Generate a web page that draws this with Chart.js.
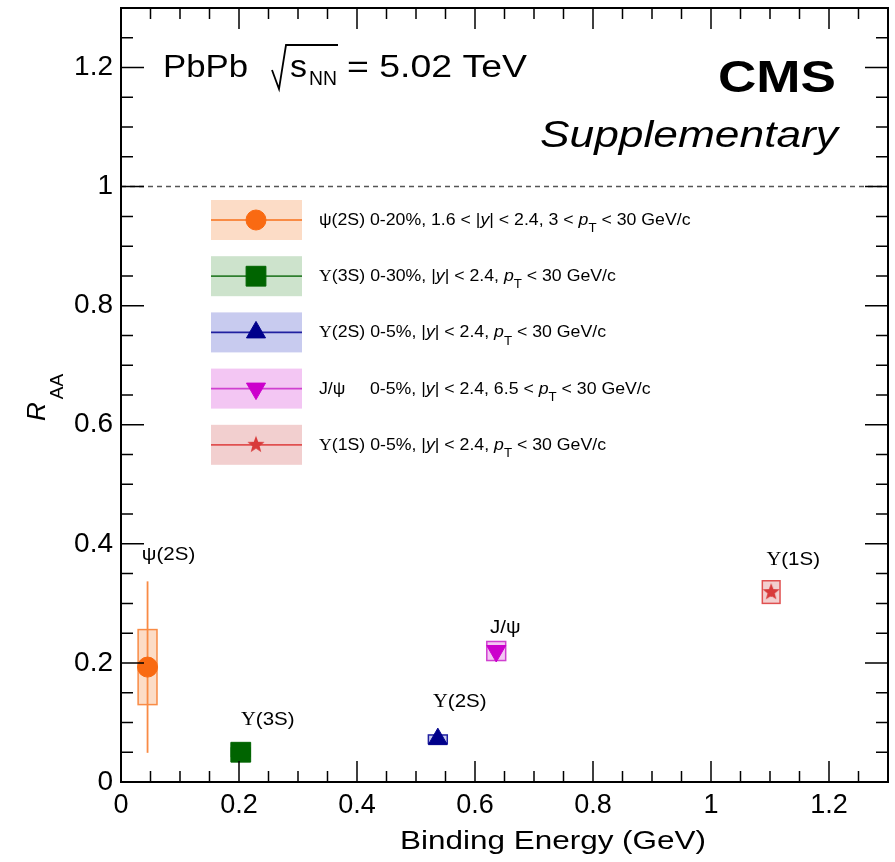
<!DOCTYPE html>
<html>
<head>
<meta charset="utf-8">
<script src="https://cdn.jsdelivr.net/npm/chart.js@4/dist/chart.umd.min.js"></script>
<style>
  html, body { margin: 0; padding: 0; background: #fff; }
  canvas { display: block; }
</style>
</head>
<body>
<canvas id="c" width="895" height="862"></canvas>
<script>
// Quarkonium suppression vs binding energy, PbPb at 5.02 TeV
const states        = ['ψ(2S)', 'Υ(3S)', 'Υ(2S)', 'J/ψ', 'Υ(1S)'];
const bindingEnergy = [0.045, 0.203, 0.537, 0.636, 1.102];   // GeV
const raa           = [0.193, 0.050, 0.072, 0.220, 0.319];
const statErr       = [0.144, 0.006, 0.006, 0.005, 0.008];
const systErr       = [0.063, 0.007, 0.007, 0.016, 0.019];
const systHalfWidth = [0.016, 0.016, 0.016, 0.016, 0.015];   // GeV
const legendTexts = [
  'ψ(2S) 0-20%, 1.6 < |{y}| < 2.4, 3 < {p}[T] < 30 GeV/c',
  'Υ(3S) 0-30%, |{y}| < 2.4, {p}[T] < 30 GeV/c',
  'Υ(2S) 0-5%, |{y}| < 2.4, {p}[T] < 30 GeV/c',
  'J/ψ     0-5%, |{y}| < 2.4, 6.5 < {p}[T] < 30 GeV/c',
  'Υ(1S) 0-5%, |{y}| < 2.4, {p}[T] < 30 GeV/c'
];
const xTicks = [0, 0.2, 0.4, 0.6, 0.8, 1, 1.2];
const yTicks = [0, 0.2, 0.4, 0.6, 0.8, 1, 1.2];
const minorStep = 0.05;
const xRange = [0, 1.3];
const yRange = [0, 1.3];
const unityLevel = 1;

// styles
const SANS = '"Liberation Sans", Arial, Helvetica, sans-serif';
const SERIF = '"Liberation Serif", "DejaVu Serif", serif';
const markColors = ['#f96a12', '#006400', '#00008b', '#cc00cc', '#d83a3a'];
const lineColors = ['#f98b45', '#2f7f2f', '#2020a0', '#d040d0', '#e05050'];
const fillColors = ['#fcdcc6', '#cde3cc', '#c8cbef', '#f3c6f3', '#f2cfcf'];
const labelOffsets = [[21, -107], [27, -27], [22, -32], [9, -18], [22, -27]];

function starImage(color, r) {
  const c = document.createElement('canvas');
  const s = Math.ceil(2 * r + 2);
  c.width = c.height = s;
  const g = c.getContext('2d');
  g.fillStyle = color;
  g.beginPath();
  for (let i = 0; i < 10; i++) {
    const a = -Math.PI / 2 + i * Math.PI / 5;
    const rr = i % 2 ? r * 0.42 : r;
    const px = s / 2 + rr * Math.cos(a), py = s / 2 + rr * Math.sin(a);
    i ? g.lineTo(px, py) : g.moveTo(px, py);
  }
  g.closePath();
  g.fill();
  return c;
}

const markerStyles = [
  { pointStyle: 'circle', radius: 10, rotation: 0 },
  { pointStyle: 'rect', radius: 14, rotation: 0 },
  { pointStyle: 'triangle', radius: 11, rotation: 0 },
  { pointStyle: 'triangle', radius: 11, rotation: 180 },
  { pointStyle: starImage(markColors[4], 9), radius: 9, rotation: 0 }
];

// text helpers: {..} italic, [..] subscript, Υ set in serif
function richSegments(str) {
  const segs = []; let mode = 'n'; let buf = '';
  const push = () => { if (buf) { segs.push({ t: buf, m: mode }); buf = ''; } };
  for (const ch of str) {
    if (ch === '{') { push(); mode = 'i'; }
    else if (ch === '[') { push(); mode = 's'; }
    else if (ch === '}' || ch === ']') { push(); mode = 'n'; }
    else if (ch === 'Υ') { push(); segs.push({ t: ch, m: 'g' }); }
    else buf += ch;
  }
  push();
  return segs;
}
function segFont(m, size) {
  if (m === 'i') return `italic ${size}px ${SANS}`;
  if (m === 's') return `${Math.round(size * 0.75)}px ${SANS}`;
  if (m === 'g') return `${size}px ${SERIF}`;
  return `${size}px ${SANS}`;
}
function richWidth(ctx, str, size) {
  let w = 0;
  for (const s of richSegments(str)) { ctx.font = segFont(s.m, size); w += ctx.measureText(s.t).width; }
  return w;
}
function drawRich(ctx, str, x, y, size, sx, align) {
  const w = richWidth(ctx, str, size) * sx;
  const x0 = align === 'center' ? x - w / 2 : x;
  ctx.save();
  ctx.translate(x0, y);
  ctx.scale(sx, 1);
  ctx.textAlign = 'left';
  ctx.textBaseline = 'alphabetic';
  let cx = 0;
  for (const s of richSegments(str)) {
    ctx.font = segFont(s.m, size);
    ctx.fillText(s.t, cx, s.m === 's' ? size * 0.45 : 0);
    cx += ctx.measureText(s.t).width;
  }
  ctx.restore();
}
function drawFit(ctx, text, font, x0, x1, y) {
  ctx.save();
  ctx.font = font;
  const w = ctx.measureText(text).width;
  ctx.translate(x0, y);
  ctx.scale((x1 - x0) / w, 1);
  ctx.textAlign = 'left';
  ctx.textBaseline = 'alphabetic';
  ctx.fillText(text, 0, 0);
  ctx.restore();
}
function drawMarker(ctx, i, x, y) {
  const st = markerStyles[i];
  ctx.save();
  ctx.fillStyle = markColors[i];
  ctx.strokeStyle = markColors[i];
  ctx.lineWidth = 1;
  Chart.helpers.drawPoint(ctx, { pointStyle: st.pointStyle, radius: st.radius, rotation: st.rotation, borderWidth: 1 }, x, y);
  ctx.restore();
}

const physicsPlugin = {
  id: 'physics',
  beforeDatasetsDraw(chart) {
    const { ctx, chartArea: a, scales: { x, y } } = chart;
    // R_AA = 1 reference
    ctx.save();
    ctx.strokeStyle = '#555';
    ctx.lineWidth = 1.5;
    ctx.setLineDash([5, 4]);
    const yu = y.getPixelForValue(unityLevel);
    ctx.beginPath(); ctx.moveTo(a.left, yu); ctx.lineTo(a.right, yu); ctx.stroke();
    ctx.restore();

    // systematic boxes and statistical bars
    for (let i = 0; i < states.length; i++) {
      const xl = x.getPixelForValue(bindingEnergy[i] - systHalfWidth[i]);
      const xr = x.getPixelForValue(bindingEnergy[i] + systHalfWidth[i]);
      const yt = y.getPixelForValue(raa[i] + systErr[i]);
      const yb = y.getPixelForValue(raa[i] - systErr[i]);
      const xc = x.getPixelForValue(bindingEnergy[i]);
      ctx.save();
      ctx.fillStyle = fillColors[i];
      ctx.fillRect(xl, yt, xr - xl, yb - yt);
      ctx.strokeStyle = lineColors[i];
      ctx.lineWidth = 1.8;
      ctx.beginPath();
      ctx.moveTo(xc, y.getPixelForValue(raa[i] + statErr[i]));
      ctx.lineTo(xc, y.getPixelForValue(raa[i] - statErr[i]));
      ctx.stroke();
      ctx.lineWidth = 1.5;
      ctx.strokeRect(xl, yt, xr - xl, yb - yt);
      ctx.restore();
    }

    // legend
    ctx.save();
    const rowTop = 200, rowStep = 56.2, boxH = 40, boxL = 211, boxR = 302, markX = 256, textX = 319;
    const textSize = 16;
    const sx = 287 / richWidth(ctx, legendTexts[2], textSize);
    for (let i = 0; i < states.length; i++) {
      const top = rowTop + i * rowStep, cy = top + boxH / 2;
      ctx.fillStyle = fillColors[i];
      ctx.fillRect(boxL, top, boxR - boxL, boxH);
      ctx.strokeStyle = lineColors[i];
      ctx.lineWidth = 1.8;
      ctx.beginPath(); ctx.moveTo(boxL, cy); ctx.lineTo(boxR, cy); ctx.stroke();
      drawMarker(ctx, i, markX, cy);
      ctx.fillStyle = '#000';
      drawRich(ctx, legendTexts[i], textX, cy + 5, textSize, sx, 'left');
    }
    ctx.restore();
  },
  afterDraw(chart) {
    const { ctx, chartArea: a, scales: { x, y } } = chart;
    ctx.save();
    // frame
    ctx.strokeStyle = '#000';
    ctx.lineWidth = 2;
    ctx.strokeRect(a.left, a.top, a.right - a.left, a.bottom - a.top);
    // inward ticks on all four sides
    ctx.lineWidth = 1.5;
    const isMajor = (v, list) => list.some(t => Math.abs(t - v) < 1e-6);
    ctx.beginPath();
    for (let v = xRange[0]; v <= xRange[1] + 1e-9; v += minorStep) {
      const px = x.getPixelForValue(v);
      const len = isMajor(v, xTicks) ? 21 : 11;
      ctx.moveTo(px, a.bottom); ctx.lineTo(px, a.bottom - len);
      ctx.moveTo(px, a.top); ctx.lineTo(px, a.top + len);
    }
    for (let v = yRange[0]; v <= yRange[1] + 1e-9; v += minorStep) {
      const py = y.getPixelForValue(v);
      const len = isMajor(v, yTicks) ? 23 : 12;
      ctx.moveTo(a.left, py); ctx.lineTo(a.left + len, py);
      ctx.moveTo(a.right, py); ctx.lineTo(a.right - len, py);
    }
    ctx.stroke();

    // point labels
    ctx.fillStyle = '#000';
    for (let i = 0; i < states.length; i++) {
      const px = x.getPixelForValue(bindingEnergy[i]) + labelOffsets[i][0];
      const py = y.getPixelForValue(raa[i]) + labelOffsets[i][1];
      drawRich(ctx, states[i], px, py, 19, 1.08, 'center');
    }

    // collision system
    drawFit(ctx, 'PbPb', `31px ${SANS}`, 163, 248, 77);
    ctx.lineWidth = 1.8;
    ctx.beginPath();
    ctx.moveTo(272, 70); ctx.lineTo(279, 89); ctx.lineTo(286, 45); ctx.lineTo(338, 45);
    ctx.stroke();
    drawFit(ctx, 's', `31px ${SANS}`, 290, 307, 77);
    drawFit(ctx, 'NN', `21px ${SANS}`, 309, 337, 85);
    drawFit(ctx, '= 5.02 TeV', `31px ${SANS}`, 347, 527, 77);

    // experiment tag
    drawFit(ctx, 'CMS', `bold 44px ${SANS}`, 718, 836, 92);
    drawFit(ctx, 'Supplementary', `italic 36px ${SANS}`, 540, 838, 147);

    // axis titles
    drawFit(ctx, 'Binding Energy (GeV)', `26px ${SANS}`, 400, 706, 849);
    ctx.save();
    ctx.translate(45, 421);
    ctx.rotate(-Math.PI / 2);
    ctx.font = `italic 26px ${SANS}`;
    ctx.textBaseline = 'alphabetic';
    ctx.fillText('R', 0, 0);
    const rw = ctx.measureText('R').width;
    ctx.font = `19px ${SANS}`;
    ctx.fillText('AA', rw + 3, 18);
    ctx.restore();
    ctx.restore();
  }
};

const datasets = states.map((s, i) => ({
  label: s,
  data: [{ x: bindingEnergy[i], y: raa[i] }],
  showLine: false,
  pointStyle: markerStyles[i].pointStyle,
  pointRadius: markerStyles[i].radius,
  pointRotation: markerStyles[i].rotation,
  pointBackgroundColor: markColors[i],
  pointBorderColor: markColors[i],
  pointBorderWidth: 1,
  clip: false
}));

function noPadding(s) {
  s.paddingLeft = 0; s.paddingRight = 0; s.paddingTop = 0; s.paddingBottom = 0;
}

new Chart(document.getElementById('c'), {
  type: 'scatter',
  data: { datasets },
  options: {
    responsive: false,
    animation: false,
    devicePixelRatio: 1,
    layout: { autoPadding: false, padding: { top: 8, right: 7, left: 0, bottom: 0 } },
    plugins: { legend: { display: false }, tooltip: { enabled: false } },
    scales: {
      x: {
        type: 'linear', min: xRange[0], max: xRange[1],
        grid: { display: false, drawTicks: false }, border: { display: false },
        afterBuildTicks: s => { s.ticks = xTicks.map(v => ({ value: v })); },
        afterFit: s => { s.height = 80; noPadding(s); },
        ticks: { color: '#000', padding: 7, maxRotation: 0, autoSkip: false,
                 font: { family: SANS, size: 27 }, callback: v => String(v) }
      },
      y: {
        type: 'linear', min: yRange[0], max: yRange[1],
        grid: { display: false, drawTicks: false }, border: { display: false },
        afterBuildTicks: s => { s.ticks = yTicks.map(v => ({ value: v })); },
        afterFit: s => { s.width = 121; noPadding(s); },
        ticks: { color: '#000', padding: 8, autoSkip: false,
                 font: { family: SANS, size: 28 }, callback: v => String(v) }
      }
    }
  },
  plugins: [physicsPlugin]
});
</script>
</body>
</html>
